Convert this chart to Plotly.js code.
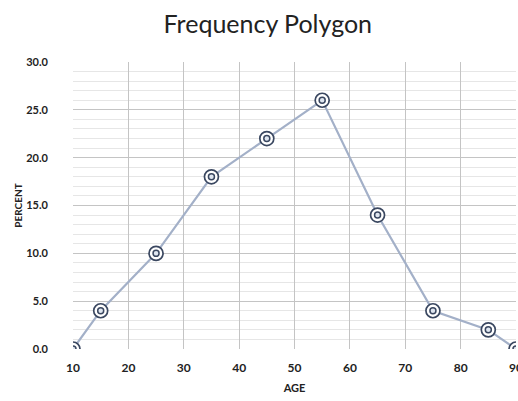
<!DOCTYPE html>
<html><head><meta charset="utf-8">
<script src="https://cdn.plot.ly/plotly-3.0.1.min.js"></script>
<style>html,body{margin:0;padding:0;background:#fff}</style>
</head><body><div id="chart" style="width:518px;height:401px"></div>
<script>
const ages = [10, 15, 25, 35, 45, 55, 65, 75, 85, 90];
const percents = [0, 4, 10, 18, 22, 26, 14, 4, 2, 0];
const yTickVals = [0, 5, 10, 15, 20, 25, 30];
const yTickText = ["0.0", "5.0", "10.0", "15.0", "20.0", "25.0", "30.0"];
const xTickVals = [10, 20, 30, 40, 50, 60, 70, 80, 90];

const traces = [
  {x: ages, y: percents, mode: 'lines', line: {color: '#a3b0c8', width: 2.2}, hoverinfo: 'skip'},
  {x: ages, y: percents, mode: 'markers', marker: {symbol: 'circle', size: 14, color: '#ffffff', line: {color: '#3a4760', width: 1.7}}},
  {x: ages, y: percents, mode: 'markers', marker: {symbol: 'circle', size: 6, color: '#dfe6f0', line: {color: '#3a4760', width: 1.5}}}
];
const layout = {
  width: 518, height: 401,
  margin: {l: 73, r: 2, t: 62, b: 52},
  showlegend: false,
  paper_bgcolor: '#fff', plot_bgcolor: '#fff',
  title: {text: 'Frequency Polygon', x: 0.517, xanchor: 'center', y: 0.94, yanchor: 'middle',
          font: {family: 'Lato, sans-serif', size: 25, color: '#222'}},
  xaxis: {range: [10, 90.001], tickvals: xTickVals, ticks: '', showline: false,
          gridcolor: '#c4c4c4', gridwidth: 1, zeroline: false, ticklabelstandoff: 10,
          ticklabeloverflow: 'allow',
          tickfont: {family: 'Lato, sans-serif', size: 12, color: '#222', weight: 'bold'},
          title: {text: 'AGE', standoff: 10, font: {family: 'Lato, sans-serif', size: 11, color: '#222', weight: 'bold'}}},
  yaxis: {range: [0, 30], tickvals: yTickVals, ticktext: yTickText, ticks: '', showline: false,
          gridcolor: '#c4c4c4', gridwidth: 1, zeroline: false, ticklabelstandoff: 24,
          minor: {dtick: 1, showgrid: true, gridcolor: '#e6e6e6', gridwidth: 1},
          tickfont: {family: 'Lato, sans-serif', size: 11, color: '#222', weight: 'bold'},
          title: {text: 'PERCENT', standoff: 1, font: {family: 'Lato, sans-serif', size: 10, color: '#222', weight: 'bold'}}}
};
Plotly.newPlot('chart', traces, layout, {displayModeBar: false, staticPlot: true});
</script></body></html>
